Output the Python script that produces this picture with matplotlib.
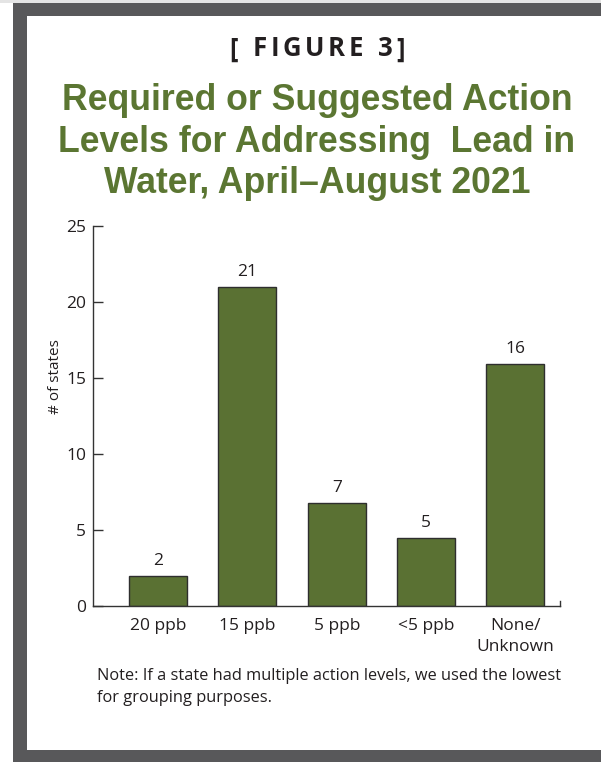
import matplotlib
matplotlib.use("Agg")
import matplotlib.pyplot as plt
from matplotlib.patches import Rectangle

categories = ["20 ppb", "15 ppb", "5 ppb", "<5 ppb", "None/\nUnknown"]
heights = [2.0, 21.0, 6.75, 4.5, 15.9]
value_labels = ["2", "21", "7", "5", "16"]
y_ticks = [0, 5, 10, 15, 20, 25]

GREEN = "#5a7133"
TITLE_GREEN = "#5b7632"
FRAME = "#58585a"
INK = "#231f20"
BODY_FONT = ["Open Sans", "DejaVu Sans"]

W, H = 601, 762
fig = plt.figure(figsize=(W / 100, H / 100), dpi=100)
fig.patch.set_facecolor("white")


def px_rect(x0, y0, x1, y1, color):
    fig.patches.append(Rectangle((x0 / W, 1 - y1 / H), (x1 - x0) / W, (y1 - y0) / H,
                                 transform=fig.transFigure, facecolor=color,
                                 edgecolor="none", zorder=0))


# page frame
px_rect(0, 0, W, 3, "#e4e4e4")
px_rect(13, 3, W, 16, FRAME)
px_rect(13, 3, 27, H, FRAME)
px_rect(13, 750, W, H, FRAME)

# letter-spaced figure label: lay characters out one by one to fill ~175 px
fig_label = "[ FIGURE 3]"
label_width = 175.0
renderer = fig.canvas.get_renderer()
pieces = []
for ch in fig_label:
    t = fig.text(0, 1 - 49 / H, ch, ha="left", va="center", fontsize=18.5,
                 fontweight="bold", color=INK, family=BODY_FONT)
    pieces.append(t)
widths = [t.get_window_extent(renderer).width if t.get_text().strip() else 7.0 for t in pieces]
tracking = (label_width - sum(widths)) / (len(pieces) - 1)
xpos = 317 - label_width / 2
for t, w in zip(pieces, widths):
    t.set_x(xpos / W)
    xpos += w + tracking

title_lines = ["Required or Suggested Action",
               "Levels for Addressing  Lead in",
               "Water, April\u2013August 2021"]
for i, line in enumerate(title_lines):
    fig.text(317 / W, 1 - (110 + 41.5 * i) / H, line, ha="center", va="baseline",
             fontsize=25.7, fontweight="bold", color=TITLE_GREEN,
             family=["Liberation Sans", "DejaVu Sans"])

ax = fig.add_axes([93 / W, 1 - 606 / H, (560 - 93) / W, (606 - 226) / H])
x = list(range(len(categories)))
bars = ax.bar(x, heights, width=0.65, color=GREEN, edgecolor="#2e2e2e", linewidth=1.0)
for xi, h, lab in zip(x, heights, value_labels):
    ax.annotate(lab, (xi, h), xytext=(0, 5), textcoords="offset points",
                ha="center", va="bottom", fontsize=12.5, color=INK, family=BODY_FONT)

ax.set_xlim(-0.73, 4.5)
ax.set_ylim(0, 25)
ax.set_yticks(y_ticks)
ax.set_xticks(x)
ax.set_xticklabels(categories, fontsize=12.5, color=INK, family=BODY_FONT, linespacing=1.35)
ax.tick_params(axis="x", length=0, pad=9)
ax.tick_params(axis="y", direction="in", length=7, width=1, color="#333333",
               labelsize=12.5, labelcolor=INK, pad=5)
for lab in ax.get_yticklabels():
    lab.set_family(BODY_FONT)

ax.spines["top"].set_visible(False)
ax.spines["right"].set_bounds(0, 0.35)
for s in ["left", "bottom", "right"]:
    ax.spines[s].set_color("#333333")
    ax.spines[s].set_linewidth(1)

ax.set_ylabel("# of states", fontsize=11, color=INK, family=BODY_FONT)
ax.yaxis.set_label_coords(-0.065, 0.605)

fig.text(97 / W, 1 - 668 / H,
         "Note: If a state had multiple action levels, we used the lowest\nfor grouping purposes.",
         ha="left", va="top", fontsize=11.8, color=INK, family=BODY_FONT, linespacing=1.5)

fig.savefig("out.png", dpi=100)
